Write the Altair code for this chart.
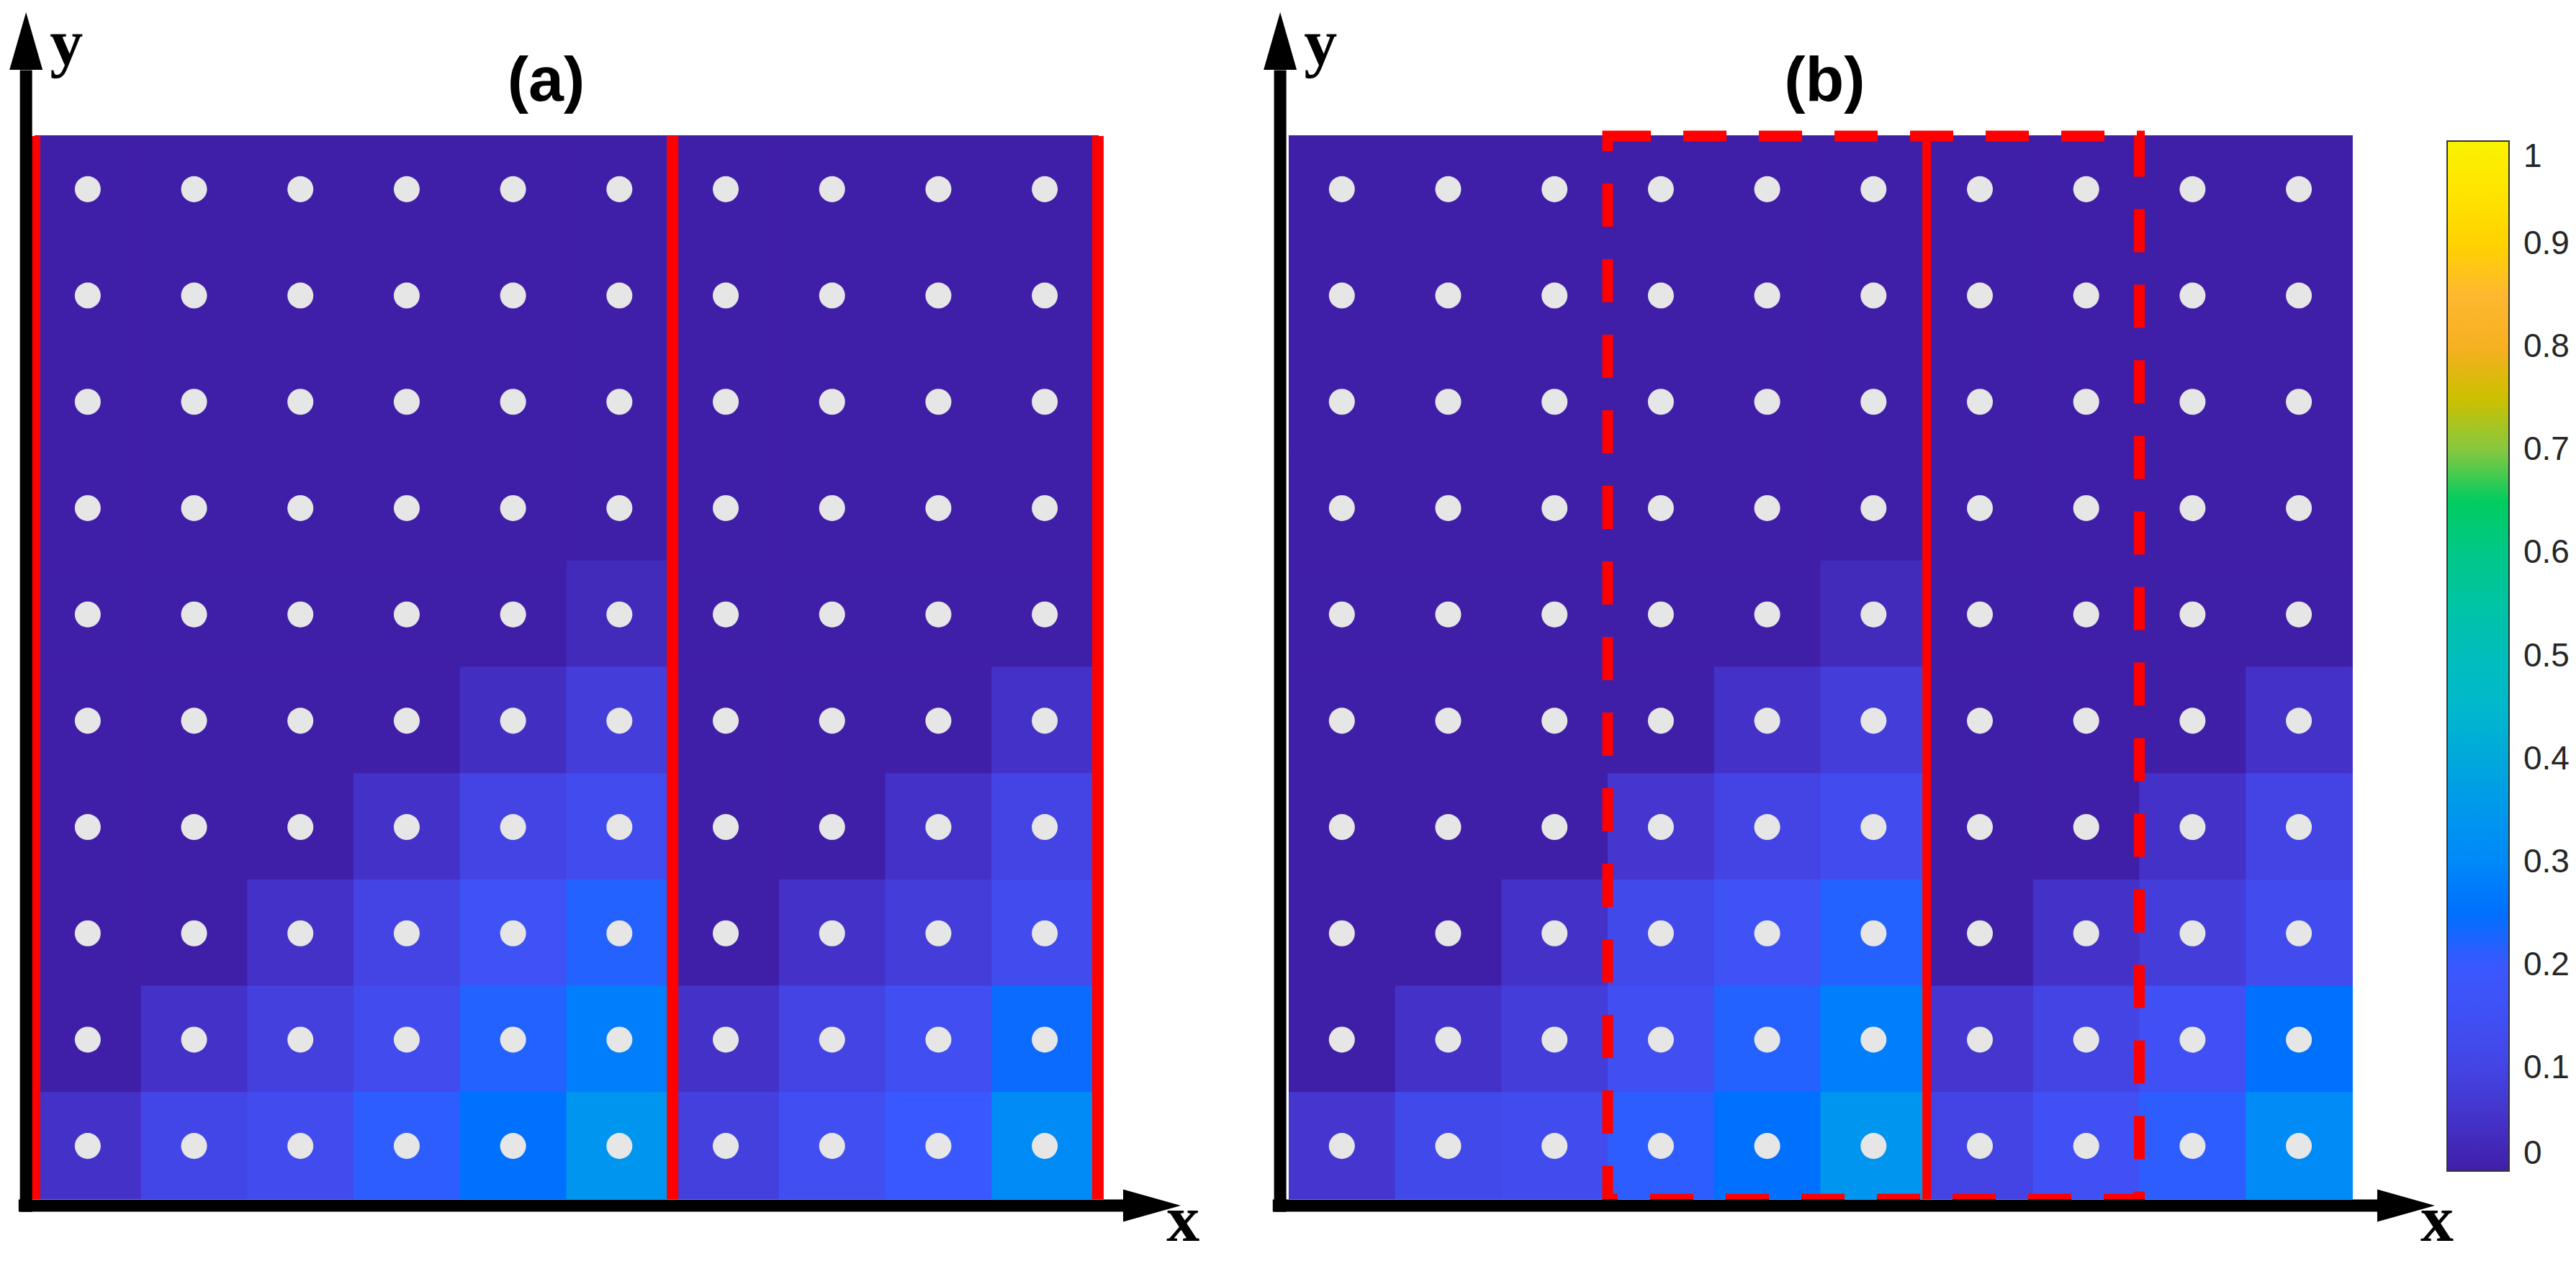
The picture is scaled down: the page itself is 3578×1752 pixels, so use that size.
import altair as alt
import pandas as pd

# ---------------- data ----------------
# colour map (value stops -> colours)
cmap_stops = [0.0, 0.05, 0.1, 0.15, 0.2, 0.25, 0.3, 0.35, 0.4, 0.45, 0.5,
              0.55, 0.6, 0.65, 0.7, 0.75, 0.8, 0.85, 0.9, 0.95, 1.0]
cmap_colors = ["#401FA8", "#4432C8", "#4444E4", "#4050F4", "#3A58FF", "#0070FF",
               "#0088F8", "#0098EC", "#00A8DC", "#00B8CC", "#00BEBC", "#00C4A4",
               "#00C888", "#00CC60", "#86C840", "#CCC000", "#F6B020", "#FFB830",
               "#FFD200", "#FFE400", "#FAF200"]
cbar_ticks = [0, 0.1, 0.2, 0.3, 0.4, 0.5, 0.6, 0.7, 0.8, 0.9, 1]

# cell values, rows listed from top to bottom, 10 columns each
grid_a = [
    [0, 0, 0, 0, 0, 0, 0, 0, 0, 0],
    [0, 0, 0, 0, 0, 0, 0, 0, 0, 0],
    [0, 0, 0, 0, 0, 0, 0, 0, 0, 0],
    [0, 0, 0, 0, 0, 0, 0, 0, 0, 0],
    [0, 0, 0, 0, 0, 0.03, 0, 0, 0, 0],
    [0, 0, 0, 0, 0.04, 0.08, 0, 0, 0, 0.05],
    [0, 0, 0, 0.05, 0.10, 0.13, 0, 0, 0.05, 0.10],
    [0, 0, 0.05, 0.10, 0.16, 0.22, 0, 0.05, 0.08, 0.13],
    [0, 0.05, 0.09, 0.13, 0.22, 0.28, 0.05, 0.10, 0.14, 0.24],
    [0.05, 0.11, 0.13, 0.21, 0.25, 0.34, 0.09, 0.14, 0.20, 0.31],
]
grid_b = [
    [0, 0, 0, 0, 0, 0, 0, 0, 0, 0],
    [0, 0, 0, 0, 0, 0, 0, 0, 0, 0],
    [0, 0, 0, 0, 0, 0, 0, 0, 0, 0],
    [0, 0, 0, 0, 0, 0, 0, 0, 0, 0],
    [0, 0, 0, 0, 0, 0.03, 0, 0, 0, 0],
    [0, 0, 0, 0, 0.05, 0.08, 0, 0, 0, 0.05],
    [0, 0, 0, 0.06, 0.10, 0.13, 0, 0, 0.05, 0.10],
    [0, 0, 0.05, 0.12, 0.16, 0.22, 0, 0.05, 0.08, 0.13],
    [0, 0.05, 0.08, 0.14, 0.22, 0.28, 0.06, 0.10, 0.15, 0.25],
    [0.06, 0.12, 0.13, 0.21, 0.25, 0.34, 0.10, 0.15, 0.21, 0.31],
]

panel_names = ["a", "b"]
panel_titles = ["(a)", "(b)"]
title_x = [4.81, 5.04]          # title centre, in cell units of each panel
solid_red_a = [0, 6, 10]        # solid red boundaries in panel (a)
solid_red_b = [6]               # solid red boundary in panel (b)
dashed_box_b = [3, 8]           # dashed red box columns in panel (b)

# ---------------- layout (cell units) ----------------
B_OFFSET = 11.794               # horizontal offset of panel (b), in cells
X_DOMAIN = [-0.2708, 23.846]
Y_DOMAIN = [-0.5281, 11.2255]
W, H = 3562, 1736

rows = []
for name, grid, off in zip(panel_names, [grid_a, grid_b], [0.0, B_OFFSET]):
    for i, r in enumerate(grid):
        yy = 9 - i
        for c, v in enumerate(r):
            rows.append(dict(panel=name, x=c + off, x2=c + off + 1, y=yy, y2=yy + 1,
                             cx=c + off + 0.5, cy=yy + 0.5, value=v))
cells = pd.DataFrame(rows)

red = pd.DataFrame(
    [dict(x=v, y=0, y2=10, w=16) for v in solid_red_a]
    + [dict(x=v + B_OFFSET, y=0, y2=10, w=12) for v in solid_red_b]
)
box = pd.DataFrame([dict(x=dashed_box_b[0] + B_OFFSET, x2=dashed_box_b[1] + B_OFFSET, y=0, y2=10)])

shafts, heads, letters, titles = [], [], [], []
UP = "M0,-1L0.575,1L-0.575,1Z"
RIGHT = "M1,0L-1,-0.5625L-1,0.5625Z"
for k, off in enumerate([0.0, B_OFFSET]):
    shafts.append(dict(x=-0.08 + off, x2=-0.08 + off, y=-0.12, y2=10.62))
    shafts.append(dict(x=-0.15 + off, x2=10.24 + off, y=-0.061, y2=-0.061))
    heads.append(dict(x=-0.08 + off, y=10.894, shape=UP))
    heads.append(dict(x=10.508 + off, y=-0.061, shape=RIGHT))
    letters.append(dict(x=0.30 + off, y=10.67, t="y"))
    letters.append(dict(x=10.80 + off, y=-0.39, t="x"))
    titles.append(dict(x=title_x[k] + off, y=10.335, t=panel_titles[k]))
shafts = pd.DataFrame(shafts)
heads = pd.DataFrame(heads)
letters = pd.DataFrame(letters)
titles = pd.DataFrame(titles)

# colour bar geometry (cells) : gradient bottom and length, right edge
CB_Y0 = 39 / 147.7
CB_LEN = 1431 / 147.7
ticks = pd.DataFrame([dict(x=23.168, x2=23.27, y=CB_Y0 + v * CB_LEN)
                      for v in cbar_ticks[1:-1]])

xs = alt.Scale(domain=X_DOMAIN, nice=False, zero=False)
ys = alt.Scale(domain=Y_DOMAIN, nice=False, zero=False)
cscale = alt.Scale(domain=cmap_stops, range=cmap_colors, interpolate="rgb")

heat = alt.Chart(cells).mark_rect(strokeWidth=0, x2Offset=1, y2Offset=-1).encode(
    x=alt.X("x:Q", scale=xs, axis=None),
    x2="x2:Q",
    y=alt.Y("y:Q", scale=ys, axis=None),
    y2="y2:Q",
    color=alt.Color(
        "value:Q", scale=cscale,
        legend=alt.Legend(
            type="gradient",
            orient="none", legendX=3391, legendY=188, direction="vertical",
            gradientLength=1431, gradientThickness=86, title=None,
            values=cbar_ticks, format=".1~f", labelFontSize=46,
            labelFont="Liberation Sans", labelColor="#262626", labelOffset=20,
            labelBaseline="middle", labelOverlap=False,
            gradientStrokeColor="#333333", gradientStrokeWidth=2, padding=0,
        ),
    ),
)

dots = alt.Chart(cells).mark_circle(size=1300, color="#E6E6E6", opacity=1).encode(
    x=alt.X("cx:Q", scale=xs, axis=None),
    y=alt.Y("cy:Q", scale=ys, axis=None),
)

red_lines = alt.Chart(red).mark_rule(color="#FF0000", strokeCap="butt").encode(
    x=alt.X("x:Q", scale=xs, axis=None),
    y=alt.Y("y:Q", scale=ys, axis=None),
    y2="y2:Q",
    strokeWidth=alt.StrokeWidth("w:Q", scale=None),
)

dashed = alt.Chart(box).mark_rect(filled=False, color="#FF0000", strokeWidth=15,
                                  strokeDash=[60, 45]).encode(
    x=alt.X("x:Q", scale=xs, axis=None),
    x2="x2:Q",
    y=alt.Y("y:Q", scale=ys, axis=None),
    y2="y2:Q",
)

axes_lines = alt.Chart(shafts).mark_rule(color="black", strokeWidth=17, strokeCap="butt").encode(
    x=alt.X("x:Q", scale=xs, axis=None),
    x2="x2:Q",
    y=alt.Y("y:Q", scale=ys, axis=None),
    y2="y2:Q",
)

arrow_heads = alt.Chart(heads).mark_point(filled=True, color="black", opacity=1,
                                          strokeWidth=0, size=6400).encode(
    x=alt.X("x:Q", scale=xs, axis=None),
    y=alt.Y("y:Q", scale=ys, axis=None),
    shape=alt.Shape("shape:N", scale=None),
)

axis_letters = alt.Chart(letters).mark_text(
    font="Liberation Serif", fontWeight="bold", fontSize=92, color="black",
    align="center", baseline="alphabetic",
).encode(
    x=alt.X("x:Q", scale=xs, axis=None),
    y=alt.Y("y:Q", scale=ys, axis=None),
    text="t:N",
)

panel_titles_layer = alt.Chart(titles).mark_text(
    font="Liberation Sans", fontWeight="bold", fontSize=88, color="black",
    align="center", baseline="alphabetic",
).encode(
    x=alt.X("x:Q", scale=xs, axis=None),
    y=alt.Y("y:Q", scale=ys, axis=None),
    text="t:N",
)

cbar_tick_marks = alt.Chart(ticks).mark_rule(color="#333333", strokeWidth=2.5).encode(
    x=alt.X("x:Q", scale=xs, axis=None),
    x2="x2:Q",
    y=alt.Y("y:Q", scale=ys, axis=None),
)

chart = alt.layer(
    heat, dots, red_lines, dashed, axes_lines, arrow_heads,
    axis_letters, panel_titles_layer, cbar_tick_marks,
).properties(
    width=W, height=H,
    autosize=alt.AutoSizeParams(type="none"),
    padding=0,
    background="white",
).configure_view(strokeWidth=0)

chart.save("out.html", embed_options={"renderer": "svg", "actions": False})
